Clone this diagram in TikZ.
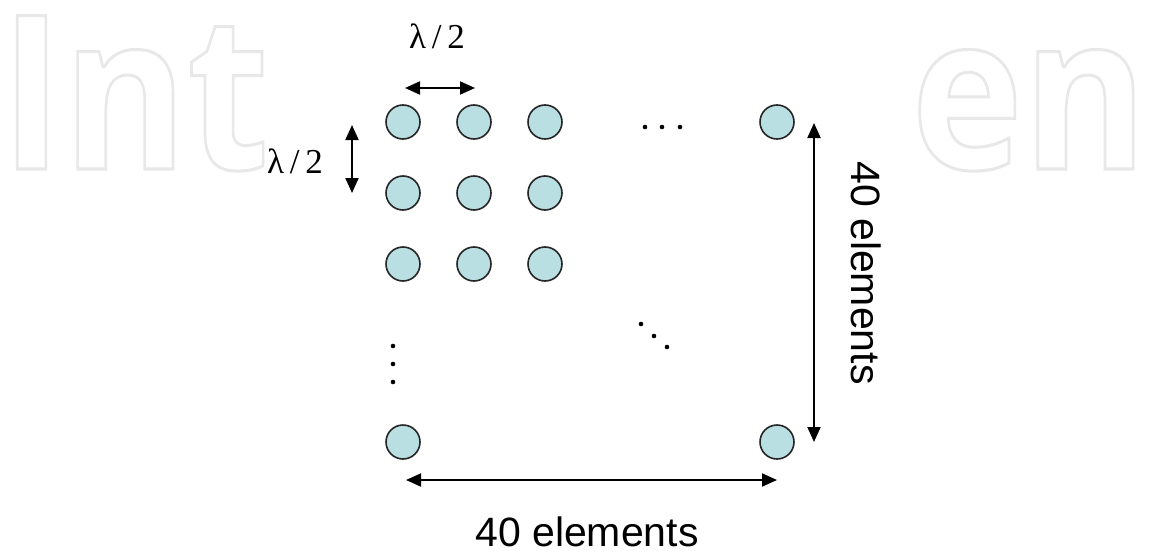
\documentclass[tikz,border=0pt]{standalone}
\usepackage{fontspec}
\setmainfont{Liberation Serif}
\newfontfamily\arialfam{Liberation Sans}
\newfontfamily\wmfam{Open Sans}
\usetikzlibrary{arrows.meta}
\definecolor{elemfill}{RGB}{185,223,226}
\definecolor{wmgray}{RGB}{232,232,232}
\newcommand{\outlinetext}[1]{\scalebox{0.88}[1]{\special{pdf:literal direct 1 Tr 3 w}#1\special{pdf:literal direct 0 Tr}}}
\tikzset{
  elem/.style={circle, draw=black!85, line width=1.6pt, fill=elemfill, minimum size=34pt, inner sep=0pt},
  dimarrow/.style={line width=2pt, {Triangle[length=15pt,width=13pt]}-{Triangle[length=15pt,width=13pt]}},
  lamlabel/.style={inner sep=0pt, font=\fontsize{35}{35}\selectfont},
  countlabel/.style={inner sep=0pt, font=\arialfam\fontsize{41}{41}\selectfont},
  wmtext/.style={inner sep=0pt, text=wmgray, font=\wmfam\bfseries\fontsize{215}{215}\selectfont},
  dotmark/.style={fill=black}
}
\begin{document}
\begin{tikzpicture}[x=1pt,y=-1pt]
\useasboundingbox[fill=white] (0,0) rectangle (1151,551);
% watermark
\node[wmtext, anchor=base west] (wmleft) at (0,169) {\outlinetext{Int}};
\node[wmtext, anchor=base west] (wmright) at (911,169) {\outlinetext{en}};
% elements
\node[elem] (e11) at (403,122) {};
\node[elem] (e12) at (474,122) {};
\node[elem] (e13) at (545,122) {};
\node[elem] (e1n) at (777,122) {};
\node[elem] (e21) at (403,193) {};
\node[elem] (e22) at (474,193) {};
\node[elem] (e23) at (545,193) {};
\node[elem] (e31) at (403,264) {};
\node[elem] (e32) at (474,264) {};
\node[elem] (e33) at (545,264) {};
\node[elem] (en1) at (403,442) {};
\node[elem] (enn) at (777,442) {};
% dots
\fill[dotmark] (645,127) circle (2.3) (662,127) circle (2.3) (680,127) circle (2.3);
\fill[dotmark] (393,346) circle (2.3) (393,364) circle (2.3) (393,382) circle (2.3);
\fill[dotmark] (641,324) circle (2.3) (654,336) circle (2.3) (667,347) circle (2.3);
% dimension arrows
\coordinate (hA) at (405,88);
\coordinate (hB) at (475,88);
\coordinate (vA) at (352,125);
\coordinate (vB) at (352,193);
\coordinate (rA) at (814,123);
\coordinate (rB) at (814,442);
\coordinate (bA) at (406,480);
\coordinate (bB) at (777,480);
\draw[dimarrow] (hA) -- (hB);
\draw[dimarrow] (vA) -- (vB);
\draw[dimarrow] (rA) -- (rB);
\draw[dimarrow] (bA) -- (bB);
% labels
\node[lamlabel] (lamh) at (437,36) {λ\,/\,2};
\node[lamlabel] (lamv) at (295,161) {λ\,/\,2};
\node[countlabel, rotate=-90] (cntv) at (866,273) {40 elements};
\node[countlabel, anchor=base] (cnth) at (587,546) {40 elements};
\end{tikzpicture}
\end{document}
